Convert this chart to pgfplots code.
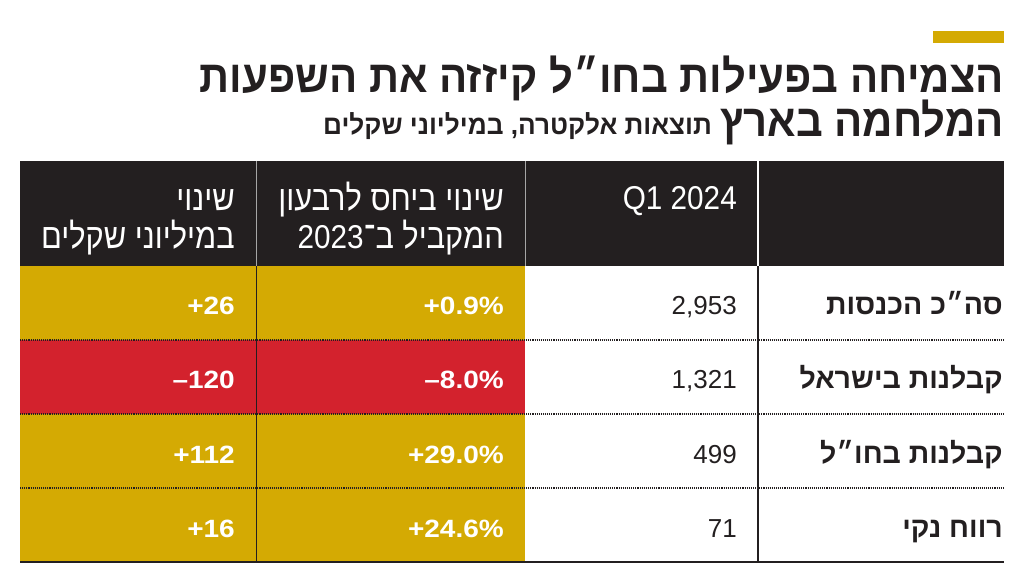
\documentclass[border=0pt]{standalone}
\usepackage{pgfplots}
\pgfplotsset{compat=1.18}
\usepackage{fontspec}
\setmainfont{Liberation Sans}
\newfontfamily\heb[Script=Hebrew]{Liberation Sans}
\newfontfamily\hebt[Script=Hebrew,FakeStretch=0.93]{Liberation Sans}
\newfontfamily\hebs[Script=Hebrew,FakeStretch=0.97]{Liberation Sans}
\newfontfamily\hebh[Script=Hebrew,FakeStretch=0.88]{Liberation Sans}
\newfontfamily\numc[FakeStretch=0.9]{Liberation Sans}
\newfontfamily\numb[FakeStretch=1.12]{Liberation Sans}
\TeXXeTstate=1
\definecolor{gold}{HTML}{D4AA03}
\definecolor{redc}{HTML}{D3222D}
\definecolor{hdr}{HTML}{231F20}
\begin{document}
\begin{tikzpicture}
\begin{axis}[width=1024pt,height=583pt,scale only axis,
  xmin=0,xmax=1024,ymin=0,ymax=583,y dir=reverse,
  axis lines=none,clip=false]
\addplot[draw=none] coordinates {(0,0)(1024,583)};
% gold accent
\addplot[fill=gold,draw=none] coordinates {(933,31)(1004,31)(1004,43)(933,43)} -- cycle;
% header blocks
\addplot[fill=hdr,draw=none] coordinates {(20,161)(1004,161)(1004,266)(20,266)} -- cycle;
\addplot[draw=gray!70,line width=1pt] coordinates {(256,161)(256,266)};
\addplot[draw=gray!70,line width=1pt] coordinates {(525,161)(525,266)};
\addplot[draw=white,line width=2pt] coordinates {(758,161)(758,266)};
% coloured cells: col1 (change in millions), col2 (pct change)
\addplot[fill=gold,draw=none] coordinates {(20,266)(525,266)(525,340)(20,340)} -- cycle;
\addplot[fill=redc,draw=none] coordinates {(20,340)(525,340)(525,414)(20,414)} -- cycle;
\addplot[fill=gold,draw=none] coordinates {(20,414)(525,414)(525,488)(20,488)} -- cycle;
\addplot[fill=gold,draw=none] coordinates {(20,488)(525,488)(525,562)(20,562)} -- cycle;
% lines
\addplot[draw=hdr,line width=0.8pt] coordinates {(256,266)(256,562)};
\addplot[draw=hdr,line width=2.2pt] coordinates {(758,266)(758,562)};
\addplot[draw=hdr,densely dotted,line width=1.1pt] coordinates {(20,340)(1004,340)};
\addplot[draw=hdr,densely dotted,line width=1.1pt] coordinates {(20,414)(1004,414)};
\addplot[draw=hdr,densely dotted,line width=1.1pt] coordinates {(20,488)(1004,488)};
\addplot[draw=hdr,line width=2.2pt] coordinates {(20,562)(1004,562)};
% title
\node[anchor=base east,inner sep=0pt,font=\hebt\bfseries\fontsize{45}{45}\selectfont,text=hdr]
  at (axis cs:1004,93) {\beginR הצמיחה בפעילות בחו״ל קיזזה את השפעות\endR};
\node[anchor=base east,inner sep=0pt,font=\hebt\bfseries\fontsize{45}{45}\selectfont,text=hdr]
  at (axis cs:1004,136) {\beginR המלחמה בארץ\endR};
\node[anchor=base east,inner sep=0pt,font=\hebs\bfseries\fontsize{27}{27}\selectfont,text=hdr]
  at (axis cs:712,135) {\beginR תוצאות אלקטרה, במיליוני שקלים\endR};
% header text
\node[anchor=base east,inner sep=0pt,font=\hebh\fontsize{35}{35}\selectfont,text=white]
  at (axis cs:235,210) {\beginR שינוי\endR};
\node[anchor=base east,inner sep=0pt,font=\hebh\fontsize{35}{35}\selectfont,text=white]
  at (axis cs:235,248) {\beginR במיליוני שקלים\endR};
\node[anchor=base east,inner sep=0pt,font=\hebh\fontsize{35}{35}\selectfont,text=white]
  at (axis cs:504,210) {\beginR שינוי ביחס לרבעון\endR};
\node[anchor=base east,inner sep=0pt,font=\hebh\fontsize{35}{35}\selectfont,text=white]
  at (axis cs:504,248) {\beginR המקביל ב־{\numc\fontsize{33}{33}\selectfont\beginL 2023\endL}\endR};
\node[anchor=base east,inner sep=0pt,font=\numc\fontsize{33}{33}\selectfont,text=white]
  at (axis cs:737,209) {Q1 2024};
% row labels
\node[anchor=base east,inner sep=0pt,font=\heb\bfseries\fontsize{28.5}{28.5}\selectfont,text=hdr]
  at (axis cs:1003,314) {\beginR סה״כ הכנסות\endR};
\node[anchor=base east,inner sep=0pt,font=\heb\bfseries\fontsize{28.5}{28.5}\selectfont,text=hdr]
  at (axis cs:1003,388) {\beginR קבלנות בישראל\endR};
\node[anchor=base east,inner sep=0pt,font=\heb\bfseries\fontsize{28.5}{28.5}\selectfont,text=hdr]
  at (axis cs:1003,463) {\beginR קבלנות בחו״ל\endR};
\node[anchor=base east,inner sep=0pt,font=\heb\bfseries\fontsize{28.5}{28.5}\selectfont,text=hdr]
  at (axis cs:1003,537) {\beginR רווח נקי\endR};
% Q1 2024 values
\node[anchor=base east,inner sep=0pt,font=\fontsize{26}{26}\selectfont,text=hdr] at (axis cs:737,314) {2,953};
\node[anchor=base east,inner sep=0pt,font=\fontsize{26}{26}\selectfont,text=hdr] at (axis cs:737,388) {1,321};
\node[anchor=base east,inner sep=0pt,font=\fontsize{26}{26}\selectfont,text=hdr] at (axis cs:737,463) {499};
\node[anchor=base east,inner sep=0pt,font=\fontsize{26}{26}\selectfont,text=hdr] at (axis cs:737,537) {71};
% pct change
\node[anchor=base east,inner sep=0pt,font=\numb\bfseries\fontsize{25}{25}\selectfont,text=white] at (axis cs:504,314) {+0.9\%};
\node[anchor=base east,inner sep=0pt,font=\numb\bfseries\fontsize{25}{25}\selectfont,text=white] at (axis cs:504,388) {–8.0\%};
\node[anchor=base east,inner sep=0pt,font=\numb\bfseries\fontsize{25}{25}\selectfont,text=white] at (axis cs:504,463) {+29.0\%};
\node[anchor=base east,inner sep=0pt,font=\numb\bfseries\fontsize{25}{25}\selectfont,text=white] at (axis cs:504,537) {+24.6\%};
% change in millions
\node[anchor=base east,inner sep=0pt,font=\numb\bfseries\fontsize{25}{25}\selectfont,text=white] at (axis cs:235,314) {+26};
\node[anchor=base east,inner sep=0pt,font=\numb\bfseries\fontsize{25}{25}\selectfont,text=white] at (axis cs:235,388) {–120};
\node[anchor=base east,inner sep=0pt,font=\numb\bfseries\fontsize{25}{25}\selectfont,text=white] at (axis cs:235,463) {+112};
\node[anchor=base east,inner sep=0pt,font=\numb\bfseries\fontsize{25}{25}\selectfont,text=white] at (axis cs:235,537) {+16};
\end{axis}
\end{tikzpicture}
\end{document}
